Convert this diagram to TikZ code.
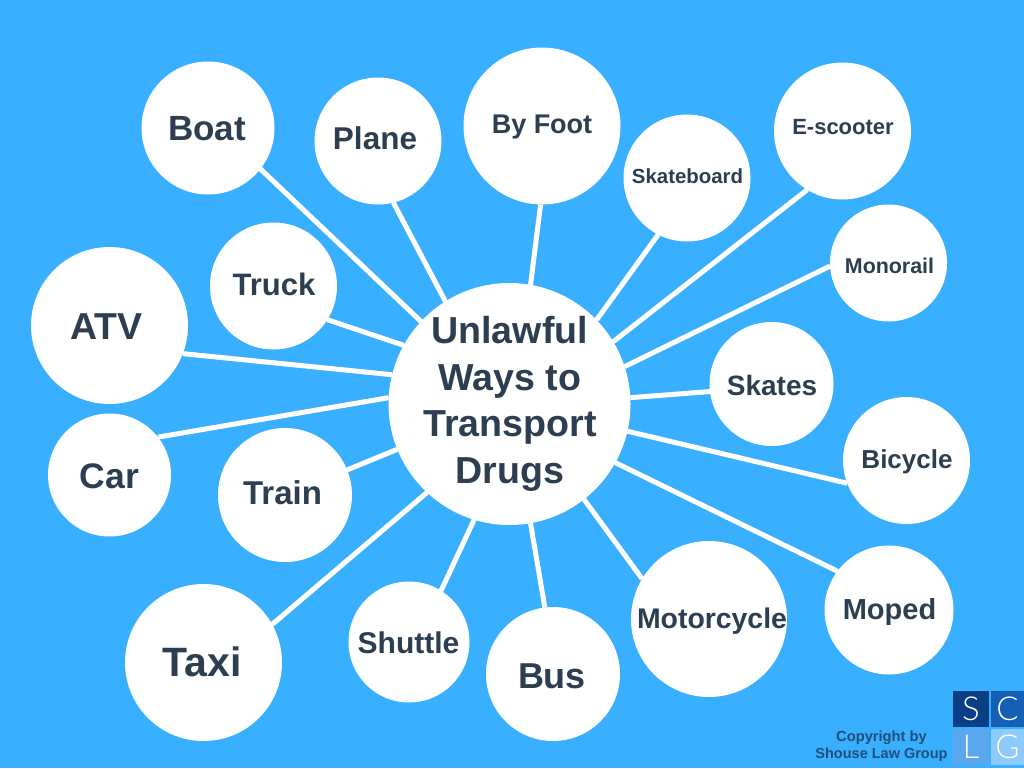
\documentclass[tikz,border=0pt]{standalone}
\usepackage{fontspec}
\setmainfont{Liberation Sans}
\newfontfamily\logofont{Lato Light}
\definecolor{bgblue}{HTML}{38B0FF}
\definecolor{inkdark}{HTML}{2C3E50}
\definecolor{copyink}{HTML}{1E4E79}
\definecolor{logoS}{HTML}{0B3F85}
\definecolor{logoC}{HTML}{1560B5}
\definecolor{logoL}{HTML}{5AA7EE}
\definecolor{logoG}{HTML}{8CCBFB}
\newcommand{\fs}[1]{\fontsize{#1}{#1}\selectfont}
\tikzset{
  bubble/.style={circle,fill=white,inner sep=0pt,outer sep=0pt,minimum size=#1},
  lab/.style={anchor=base,inner sep=0pt,text=inkdark,font=\bfseries\fs{#1}},
  spoke/.style={draw=white,line width=5pt},
  logobox/.style={anchor=north west,inner sep=0pt,outer sep=0pt,text=white,font=\logofont\fs{33},align=center},
  copytext/.style={anchor=base,inner sep=0pt,text=copyink,font=\bfseries\fs{#1}}
}
\begin{document}
\begin{tikzpicture}[x=1pt,y=-1pt]
\useasboundingbox (0,0) rectangle (1024,768);
\fill[bgblue] (0,0) rectangle (1024,768);
% bubbles
\node[bubble=242pt] (hub) at (509.5,404) {};
\node[bubble=133pt] (boat) at (208,128) {};
\node[bubble=127pt] (plane) at (378,141) {};
\node[bubble=157pt] (foot) at (542,126) {};
\node[bubble=127pt] (skateboard) at (687,178) {};
\node[bubble=137pt] (escooter) at (842.5,131) {};
\node[bubble=117pt] (monorail) at (888.5,263) {};
\node[bubble=124pt] (skates) at (771.5,384) {};
\node[bubble=127pt] (bicycle) at (906.5,460.5) {};
\node[bubble=129pt] (moped) at (889,610) {};
\node[bubble=156pt] (motorcycle) at (709,619) {};
\node[bubble=134pt] (bus) at (553,674) {};
\node[bubble=121pt] (shuttle) at (409,642) {};
\node[bubble=157pt] (taxi) at (203.5,662.5) {};
\node[bubble=134pt] (train) at (285,495) {};
\node[bubble=123pt] (car) at (109.5,475) {};
\node[bubble=157pt] (atv) at (109.5,325.5) {};
\node[bubble=127pt] (truck) at (273.5,286) {};
% connectors
\draw[spoke] (hub.137) -- (boat.-38);
\draw[spoke] (hub.122) -- (plane.-76);
\draw[spoke] (hub.80) -- (foot.-91);
\draw[spoke] (hub.44) -- (skateboard.-117);
\draw[spoke] (hub.31) -- (escooter.-121);
\draw[spoke] (hub.18) -- (monorail.-177);
\draw[spoke] (hub.3) -- (skates.-173);
\draw[spoke] (hub.-13) -- (bicycle.-159);
\draw[spoke] (hub.-29) -- (moped.143);
\draw[spoke] (hub.-52) -- (motorcycle.149);
\draw[spoke] (hub.-80) -- (bus.97);
\draw[spoke] (hub.-107) -- (shuttle.58);
\draw[spoke] (hub.-133) -- (taxi.29);
\draw[spoke] (hub.-158) -- (train.22);
\draw[spoke] (hub.177) -- (car.38);
\draw[spoke] (hub.166) -- (atv.-21);
\draw[spoke] (hub.151) -- (truck.-32);
% hub text
\node[lab=37.6] (hubA) at (509.7,343) {Unlawful};
\node[lab=37.6] (hubB) at (509.7,390) {Ways to};
\node[lab=37.6] (hubC) at (510,436) {Transport};
\node[lab=37.6] (hubD) at (509.7,483) {Drugs};
% labels
\node[lab=35] (tBoat) at (207,140) {Boat};
\node[lab=31.5] (tPlane) at (375,149) {Plane};
\node[lab=27] (tFoot) at (542,133.5) {By Foot};
\node[lab=20.4] (tSkateboard) at (687.5,183) {Skateboard};
\node[lab=22] (tEscooter) at (843,134.5) {E-scooter};
\node[lab=21.4] (tMonorail) at (889.5,273.5) {Monorail};
\node[lab=28] (tSkates) at (772,395) {Skates};
\node[lab=26] (tBicycle) at (907,468) {Bicycle};
\node[lab=29] (tMoped) at (889.5,619) {Moped};
\node[lab=28.4] (tMotorcycle) at (712,628) {Motorcycle};
\node[lab=36] (tBus) at (552,688) {Bus};
\node[lab=30] (tShuttle) at (408.5,653) {Shuttle};
\node[lab=41] (tTaxi) at (202,676) {Taxi};
\node[lab=33] (tTrain) at (282.5,504) {Train};
\node[lab=35.5] (tCar) at (109.5,488) {Car};
\node[lab=37.5] (tATV) at (106.5,339) {ATV};
\node[lab=31] (tTruck) at (274,295) {Truck};
% logo
\node[logobox,fill=logoS,minimum width=36pt,minimum height=36pt] (logoS) at (953,691) {S};
\node[logobox,fill=logoC,minimum width=33pt,minimum height=36pt] (logoC) at (991,691) {C};
\node[logobox,fill=logoL,minimum width=36pt,minimum height=36pt] (logoL) at (953,729) {L};
\node[logobox,fill=logoG,minimum width=33pt,minimum height=36pt] (logoG) at (991,729) {G};
\node[copytext=14.7] (copyA) at (881.5,741) {Copyright by};
\node[copytext=14.5] (copyB) at (881.5,758) {Shouse Law Group};
\end{tikzpicture}
\end{document}
